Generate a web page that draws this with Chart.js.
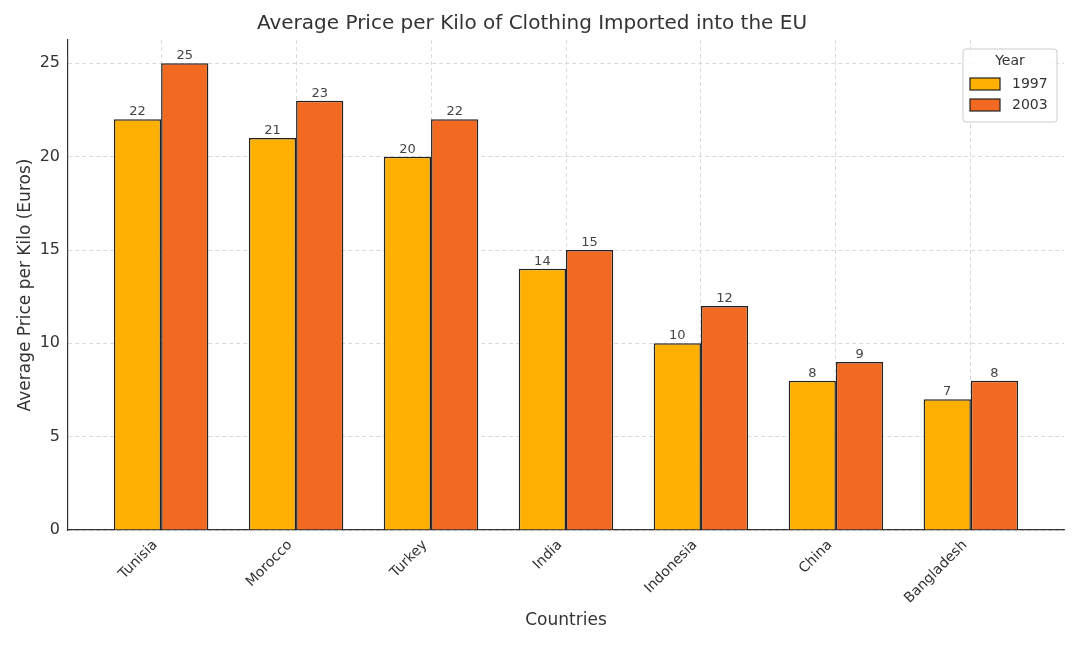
<!DOCTYPE html>
<html>
<head>
<meta charset="utf-8">
<script src="https://cdn.jsdelivr.net/npm/chart.js@4"></script>
<style>
  body { margin: 0; background: #fff; }
  #wrap { width: 1080px; height: 648px; }
</style>
</head>
<body>
<div id="wrap"><canvas id="chart"></canvas></div>
<script>
const countries = ['Tunisia', 'Morocco', 'Turkey', 'India', 'Indonesia', 'China', 'Bangladesh'];
const price1997 = [22, 21, 20, 14, 10, 8, 7];
const price2003 = [25, 23, 22, 15, 12, 9, 8];
const yTicks = [0, 5, 10, 15, 20, 25];

const font = 'DejaVu Sans, sans-serif';

// angka di atas tiap batang
const barLabels = {
  id: 'barLabels',
  afterDatasetsDraw(chart) {
    const ctx = chart.ctx;
    ctx.save();
    ctx.font = '13px ' + font;
    ctx.fillStyle = '#444';
    ctx.textAlign = 'center';
    ctx.textBaseline = 'bottom';
    chart.data.datasets.forEach((ds, i) => {
      chart.getDatasetMeta(i).data.forEach((bar, j) => {
        ctx.fillText(ds.data[j].y, bar.x, bar.y - 1);
      });
    });
    ctx.restore();
  }
};

// legenda di dalam area plot, pojok kanan atas
const boxLegend = {
  id: 'boxLegend',
  afterDraw(chart) {
    const ctx = chart.ctx;
    const x = 963, y = 49, w = 94, h = 73;
    ctx.save();
    ctx.fillStyle = 'rgba(255,255,255,0.85)';
    ctx.strokeStyle = '#cccccc';
    ctx.lineWidth = 1;
    ctx.beginPath();
    ctx.roundRect(x, y, w, h, 3);
    ctx.fill();
    ctx.stroke();
    ctx.fillStyle = '#333';
    ctx.font = '14px ' + font;
    ctx.textAlign = 'center';
    ctx.textBaseline = 'middle';
    ctx.fillText('Year', x + w / 2, y + 12);
    chart.data.datasets.forEach((ds, i) => {
      const sy = y + 29 + i * 21;
      ctx.fillStyle = ds.backgroundColor;
      ctx.fillRect(x + 7, sy, 30, 12);
      ctx.strokeStyle = '#222';
      ctx.lineWidth = 1.2;
      ctx.strokeRect(x + 7, sy, 30, 12);
      ctx.fillStyle = '#333';
      ctx.textAlign = 'left';
      ctx.fillText(ds.label, x + 49, sy + 6);
    });
    ctx.restore();
  }
};

const ctx = document.getElementById('chart').getContext('2d');

new Chart(ctx, {
  type: 'bar',
  data: {
    datasets: [{
      label: '1997',
      data: price1997.map((v, i) => ({ x: i, y: v })),
      backgroundColor: '#FFB000',
      borderColor: '#222',
      borderWidth: 1.5,
      categoryPercentage: 0.7,
      barPercentage: 1
    }, {
      label: '2003',
      data: price2003.map((v, i) => ({ x: i, y: v })),
      backgroundColor: '#F26A21',
      borderColor: '#222',
      borderWidth: 1.5,
      categoryPercentage: 0.7,
      barPercentage: 1
    }]
  },
  options: {
    responsive: true,
    maintainAspectRatio: false,
    animation: false,
    layout: { padding: { left: 0, right: 16, top: 0, bottom: 0 } },
    plugins: {
      legend: { display: false },
      tooltip: { enabled: false },
      title: {
        display: true,
        text: 'Average Price per Kilo of Clothing Imported into the EU',
        color: '#333',
        font: { family: font, size: 20, weight: 'normal' },
        padding: { top: 12, bottom: 4 }
      }
    },
    scales: {
      x: {
        type: 'linear',
        offset: false,
        min: -0.69,
        max: 6.69,
        afterBuildTicks: s => { s.ticks = countries.map((c, i) => ({ value: i })); },
        afterFit: s => { s.height = 118; },
        ticks: {
          autoSkip: false,
          minRotation: 45,
          maxRotation: 45,
          padding: 7,
          labelOffset: -6,
          color: '#333',
          font: { family: font, size: 14 },
          callback: v => countries[v]
        },
        grid: { offset: false, color: '#d0d0d0', lineWidth: 0.8, drawTicks: false },
        border: { display: true, color: '#333', width: 1.2, dash: [4, 3] },
        title: {
          display: true,
          text: 'Countries',
          color: '#333',
          font: { family: font, size: 17 },
          padding: { top: 4, bottom: 17 }
        }
      },
      y: {
        min: 0,
        max: 26.25,
        afterBuildTicks: s => { s.ticks = yTicks.map(v => ({ value: v })); },
        afterFit: s => { s.width = 68; },
        ticks: {
          padding: 8,
          color: '#333',
          font: { family: font, size: 16 }
        },
        grid: { color: '#d0d0d0', lineWidth: 0.8, drawTicks: false },
        border: { display: true, color: '#333', width: 1.2, dash: [4, 3] },
        title: {
          display: true,
          text: 'Average Price per Kilo (Euros)',
          color: '#333',
          font: { family: font, size: 17 },
          padding: { top: 15, bottom: 0 }
        }
      }
    }
  },
  plugins: [barLabels, boxLegend]
});
</script>
</body>
</html>
